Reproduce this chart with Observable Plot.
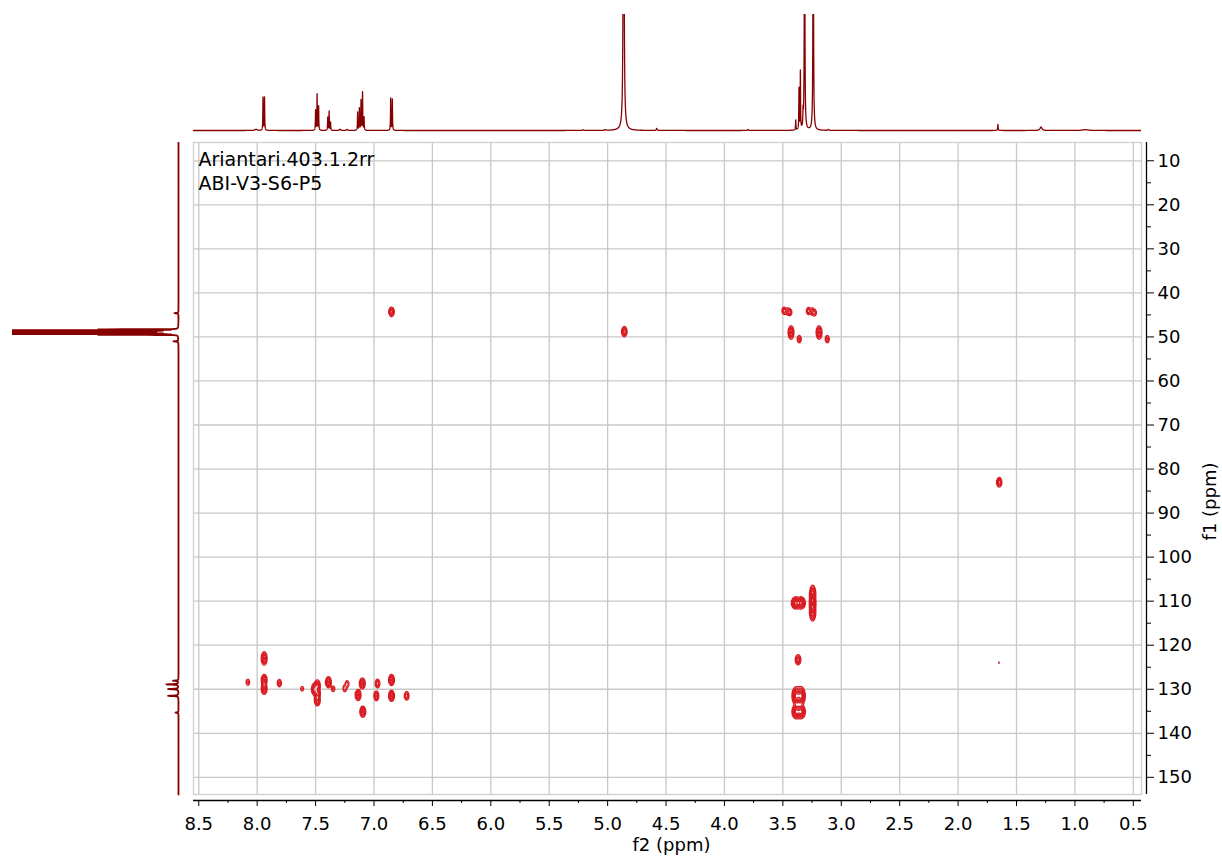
<!DOCTYPE html>
<html>
<head>
<meta charset="utf-8">
<script src="https://cdn.jsdelivr.net/npm/d3@7"></script>
<script src="https://cdn.jsdelivr.net/npm/@observablehq/plot@0.6"></script>
<style>
  body { margin: 0; background: #fff; }
  #chart { position: relative; width: 1222px; height: 859px; font-family: "DejaVu Sans", Verdana, sans-serif; }
  #chart svg { position: absolute; left: 0; top: 0; }
</style>
</head>
<body>
<div id="chart"></div>
<script>
// ---- 1H projection (f2): line positions (ppm), heights (px above baseline), half widths (ppm)
const hShift  = [8.01, 7.950, 7.937, 7.500, 7.487, 7.474, 7.396, 7.384, 7.372, 7.29, 7.23,
                 7.140, 7.125, 7.111, 7.098, 7.085, 6.857, 6.843, 5.21, 5.02, 4.863, 4.58, 3.80,
                 3.390, 3.362, 3.350, 3.327, 3.314, 3.240, 3.11, 1.659, 1.29, 0.91];
const hHeight = [1.2, 33, 33, 20, 36, 24, 13, 19, 8, 1.2, 1,
                 18, 22, 30, 38, 13, 32, 31, 0.7, 0.7, 500, 2, 1,
                 10, 41, 58, 14, 300, 300, 1, 6, 3.5, 0.8];
const hWidth  = [0.01, 0.0018, 0.0018, 0.0018, 0.0018, 0.0018, 0.0018, 0.0018, 0.0018, 0.006, 0.006,
                 0.0018, 0.0018, 0.0018, 0.0018, 0.0018, 0.0018, 0.0018, 0.005, 0.005, 0.0034, 0.004, 0.004,
                 0.0018, 0.0018, 0.0018, 0.0018, 0.0025, 0.0025, 0.004, 0.0025, 0.01, 0.03];

// ---- 13C projection (f1): line positions (ppm), heights (px from baseline), half widths (ppm)
const cShift  = [44.6, 48.27, 48.48, 48.69, 48.9, 49.11, 49.32, 49.53, 51.0,
                 128.07, 128.9, 129.96, 131.5, 135.3];
const cHeight = [4, 78, 234, 468, 546, 468, 234, 78, 5,
                 5.3, 12, 10.3, 10.3, 3];
const cWidth  = [0.07, 0.015, 0.015, 0.015, 0.015, 0.015, 0.015, 0.015, 0.07,
                 0.07, 0.07, 0.07, 0.07, 0.07];

// ---- 2D cross peaks: f2 (1H, ppm), f1 (13C, ppm), intensity, widths along f2 and f1 (ppm)
const xpH   = [7.94, 7.94, 7.94, 8.08, 7.81, 7.615, 7.51, 7.485, 7.485, 7.485,
               7.39, 7.35, 7.25, 7.23, 7.10, 7.136, 7.096, 6.97, 6.98, 6.85, 6.85, 6.72,
               6.85, 4.857,
               3.49, 3.46, 3.44, 3.28, 3.25, 3.23, 3.43, 3.36, 3.19, 3.12,
               3.39, 3.345, 3.245, 3.245, 3.245, 3.37,
               3.385, 3.345, 3.385, 3.345, 1.648, 1.65];
const xpC   = [123.0, 127.9, 129.9, 128.4, 128.6, 129.9, 130.0, 129.2, 131.0, 132.6,
               128.4, 129.9, 129.8, 128.8, 128.7, 131.3, 135.1, 128.7, 131.5, 127.9, 131.5, 131.5,
               44.3, 48.8,
               44.05, 44.2, 44.4, 44.1, 44.2, 44.5, 49.0, 50.5, 49.0, 50.5,
               110.4, 110.4, 108.3, 110.5, 112.6, 123.3,
               131.5, 131.5, 135.1, 135.1, 83.0, 124.0];
const xpAmp = [1.0, 1.0, 1.0, 0.35, 0.5, 0.3, 1.0, 1.0, 1.0, 0.9,
               1.0, 0.35, 0.4, 0.4, 1.0, 1.0, 1.0, 0.6, 0.7, 1.0, 1.0, 0.6,
               0.8, 0.8,
               0.6, 0.6, 0.5, 0.6, 0.6, 0.5, 1.0, 0.5, 1.0, 0.5,
               1.8, 1.8, 1.2, 1.6, 1.2, 0.8,
               1.8, 1.8, 1.8, 1.8, 0.9, 0.15];
const xpSH  = [0.012, 0.012, 0.012, 0.010, 0.010, 0.009, 0.012, 0.012, 0.012, 0.012,
               0.012, 0.010, 0.010, 0.010, 0.012, 0.012, 0.012, 0.011, 0.011, 0.012, 0.012, 0.011,
               0.012, 0.012,
               0.010, 0.010, 0.010, 0.010, 0.010, 0.010, 0.012, 0.010, 0.012, 0.010,
               0.016, 0.016, 0.012, 0.012, 0.012, 0.012,
               0.016, 0.016, 0.016, 0.016, 0.011, 0.006];
const xpSC  = [0.75, 0.62, 0.62, 0.5, 0.5, 0.4, 0.65, 0.65, 0.65, 0.6,
               0.62, 0.45, 0.5, 0.5, 0.62, 0.62, 0.62, 0.55, 0.6, 0.62, 0.62, 0.55,
               0.55, 0.6,
               0.45, 0.45, 0.45, 0.45, 0.45, 0.45, 0.75, 0.5, 0.75, 0.5,
               0.6, 0.6, 0.9, 0.9, 0.9, 0.6,
               0.9, 0.9, 0.7, 0.7, 0.55, 0.3];

// ---- tick values
const f2Major = d3.range(0.5, 8.51, 0.5);
const f2Minor = d3.range(0.75, 8.5, 0.5);
const f1Major = d3.range(10, 151, 10);
const f1Minor = d3.range(15, 151, 10);

const f2Domain = [8.545, 0.43];
const f1Domain = [153.9, 5.85];
const font = {fontFamily: "'DejaVu Sans', Verdana, sans-serif", fontSize: "18px", background: "transparent", color: "#000", overflow: "visible"};
const traceColor = "#870000";
const contourColor = "#d81c22";

// Lorentzian line-shape sum for a 1D projection
function lineShape(shifts, heights, widths) {
  return v => {
    let s = 0;
    for (let i = 0; i < shifts.length; ++i) {
      const d = (v - shifts[i]) / widths[i];
      s += heights[i] / (1 + d * d);
    }
    return s;
  };
}

// 2D surface built from the cross-peak list, sampled by the contour mark
function crossPeakSurface(h, c) {
  let s = 0;
  for (let i = 0; i < xpH.length; ++i) {
    const dx = (h - xpH[i]) / xpSH[i];
    if (dx > 4.5 || dx < -4.5) continue;
    const dy = (c - xpC[i]) / xpSC[i];
    if (dy > 4.5 || dy < -4.5) continue;
    s += xpAmp[i] * Math.exp(-0.5 * (dx * dx + dy * dy));
  }
  return s;
}

const chart = document.getElementById("chart");

// ---- main 2D panel
const mainPanel = Plot.plot({
  width: 1222, height: 859,
  marginLeft: 193, marginRight: 81, marginTop: 142, marginBottom: 65,
  style: font,
  x: {domain: f2Domain},
  y: {domain: f1Domain},
  marks: [
    Plot.gridX(f2Major, {stroke: "#c8c8c8", strokeOpacity: 1, strokeWidth: 1.3}),
    Plot.gridY(f1Major, {stroke: "#c8c8c8", strokeOpacity: 1, strokeWidth: 1.3}),
    Plot.frame({stroke: "#cfcfcf", strokeWidth: 1.3}),
    Plot.contour({
      x1: f2Domain[0], x2: f2Domain[1], y1: f1Domain[1], y2: f1Domain[0],
      value: crossPeakSurface,
      thresholds: [0.12, 0.26, 0.42, 0.62, 0.88, 1.2, 1.55],
      pixelSize: 1,
      fill: "none", stroke: contourColor, strokeWidth: 1.25, clip: true
    }),
    // bottom f2 axis
    Plot.ruleY([f1Domain[0]], {dy: 6, stroke: "#000", strokeWidth: 1.3}),
    Plot.axisX(f2Major, {anchor: "bottom", dy: 6, tickSize: 6, tickPadding: 11, tickFormat: d3.format(".1f"), label: null, fontSize: 18}),
    Plot.axisX(f2Minor, {anchor: "bottom", dy: 6, tickSize: 3, tickFormat: () => "", label: null}),
    // right f1 axis
    Plot.ruleX([f2Domain[1]], {dx: 5, stroke: "#000", strokeWidth: 1.3}),
    Plot.axisY(f1Major, {anchor: "right", dx: 5, tickSize: 7, tickPadding: 4, label: null, fontSize: 18}),
    Plot.axisY(f1Minor, {anchor: "right", dx: 5, tickSize: 4, tickFormat: () => "", label: null}),
    // axis titles
    Plot.text(["f2 (ppm)"], {frameAnchor: "bottom", lineAnchor: "middle", dx: 4, dy: 51, fontSize: 18}),
    Plot.text(["f1 (ppm)"], {frameAnchor: "right", lineAnchor: "middle", dx: 69, dy: -6, rotate: -90, fontSize: 18}),
    // data set name
    Plot.text(["Ariantari.403.1.2rr\nABI-V3-S6-P5"], {frameAnchor: "top-left", textAnchor: "start", lineAnchor: "top", dx: 5, dy: 6, fontSize: 19, lineHeight: 1.27})
  ]
});
chart.appendChild(mainPanel);

// ---- top 1H projection (baseline at intensity 0, clipped at the top)
const hGrid = d3.sort(d3.range(f2Domain[1], f2Domain[0], 0.0005).concat(hShift));
const hModel = lineShape(hShift, hHeight, hWidth);
const hTrace = hGrid.map(v => ({ppm: v, i: hModel(v)}));
const topPanel = Plot.plot({
  width: 1222, height: 136,
  marginLeft: 193, marginRight: 81, marginTop: 14, marginBottom: 1,
  style: font,
  x: {domain: f2Domain, axis: null},
  y: {domain: [-5, 116], axis: null},
  marks: [
    Plot.line(hTrace, {x: "ppm", y: "i", stroke: traceColor, strokeWidth: 1.3, clip: true})
  ]
});
chart.appendChild(topPanel);

// ---- left 13C projection (baseline at intensity 0, clipped at the left)
const cGrid = d3.sort(d3.range(f1Domain[1], f1Domain[0], 0.005).concat(cShift));
const cModel = lineShape(cShift, cHeight, cWidth);
const cTrace = cGrid.map(v => ({ppm: v, i: cModel(v)}));
const leftPanel = Plot.plot({
  width: 190, height: 859,
  marginLeft: 12, marginRight: 2, marginTop: 142, marginBottom: 62,
  style: font,
  x: {domain: [166, -10], axis: null},
  y: {domain: [154.58, 5.85], axis: null},
  marks: [
    Plot.line(cTrace, {x: "i", y: "ppm", stroke: traceColor, strokeWidth: 1.8, clip: true})
  ]
});
chart.appendChild(leftPanel);
</script>
</body>
</html>
